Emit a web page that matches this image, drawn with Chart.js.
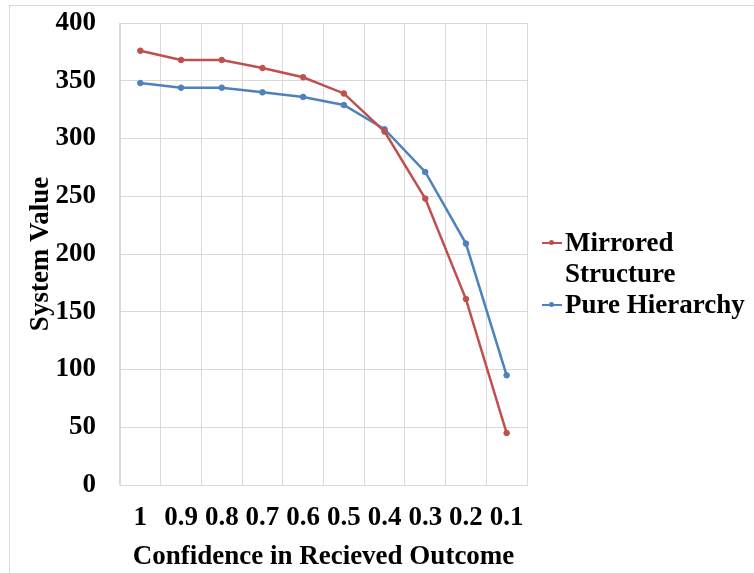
<!DOCTYPE html>
<html>
<head>
<meta charset="utf-8">
<script src="https://cdn.jsdelivr.net/npm/chart.js@4.4.1/dist/chart.umd.min.js"></script>
<style>
  html, body { margin: 0; padding: 0; background: #fff; }
  #wrap { position: relative; width: 754px; height: 573px; overflow: hidden; }
  #frame { position: absolute; left: 9px; top: 5px; width: 800px; height: 600px; border: 1px solid #d9d9d9; box-sizing: border-box; }
  #Graf1 { position: absolute; left: 0; top: 0; }
  #legend { position: absolute; left: 540px; top: 227px; font-family: "Liberation Serif", "Times New Roman", serif; font-weight: bold; font-size: 27px; line-height: 31px; color: #000; }
  .item { display: flex; align-items: flex-start; }
  .mark { position: relative; width: 22px; height: 31px; flex: none; margin-right: 3px; }
  .mark i { position: absolute; left: 2px; top: 15px; width: 20px; height: 2px; }
  .mark b { position: absolute; left: 9px; top: 13px; width: 5px; height: 5px; border-radius: 50%; }
</style>
</head>
<body>
<div id="wrap">
  <div id="frame"></div>
  <canvas id="Graf1" width="754" height="573"></canvas>
  <div id="legend">
    <div class="item"><span class="mark"><i style="background:#c0504d"></i><b style="background:#c0504d"></b></span><span>Mirrored<br>Structure</span></div>
    <div class="item"><span class="mark"><i style="background:#4f81bd"></i><b style="background:#4f81bd"></b></span><span>Pure Hierarchy</span></div>
  </div>
</div>
<script>
const ctx = document.getElementById('Graf1').getContext('2d');

// Datos
const categorias = ['1', '0.9', '0.8', '0.7', '0.6', '0.5', '0.4', '0.3', '0.2', '0.1'];
const mirrored = [376, 368, 368, 361, 353, 339, 306, 248, 161, 45];
const pureHierarchy = [348, 344, 344, 340, 336, 329, 308, 271, 209, 95];
const yTicks = [0, 50, 100, 150, 200, 250, 300, 350, 400];

const fuente = { family: '"Liberation Serif", "Times New Roman", serif', weight: 'bold', size: 27 };

const grafLine = new Chart(ctx, {
  type: 'line',
  data: {
    labels: categorias,
    datasets: [{
      label: 'Mirrored Structure',
      data: mirrored,
      borderColor: '#c0504d',
      backgroundColor: '#c0504d',
      borderWidth: 2.5,
      pointRadius: 2.8,
      pointBorderWidth: 1,
      tension: 0
    }, {
      label: 'Pure Hierarchy',
      data: pureHierarchy,
      borderColor: '#4f81bd',
      backgroundColor: '#4f81bd',
      borderWidth: 2.5,
      pointRadius: 2.8,
      pointBorderWidth: 1,
      tension: 0
    }]
  },
  options: {
    responsive: false,
    animation: false,
    layout: { padding: { top: 23, right: 227, left: 0, bottom: 0 } },
    plugins: {
      legend: { display: false },
      tooltip: { enabled: false }
    },
    scales: {
      x: {
        offset: true,
        grid: { color: '#d9d9d9', drawTicks: false, offset: true },
        border: { color: '#d9d9d9' },
        ticks: { color: '#000', font: fuente, padding: 17, maxRotation: 0, autoSkip: false },
        title: { display: true, text: 'Confidence in Recieved Outcome', color: '#000', font: fuente, padding: { top: 0, bottom: 0 } },
        afterFit: (scale) => {
          scale.height = 573 - 485;
          scale.paddingLeft = 0;
          scale.paddingRight = 0;
        }
      },
      y: {
        min: 0,
        max: 400,
        afterBuildTicks: (scale) => { scale.ticks = yTicks.map(v => ({ value: v })); },
        grid: { color: '#d9d9d9', drawTicks: false },
        border: { color: '#d9d9d9' },
        ticks: { color: '#000', font: fuente, padding: 24 },
        title: { display: true, text: 'System Value', color: '#000', font: fuente, padding: { top: 25, bottom: 0 } },
        afterFit: (scale) => {
          scale.width = 120;
          scale.paddingTop = 0;
          scale.paddingBottom = 0;
        }
      }
    }
  }
});
</script>
</body>
</html>
